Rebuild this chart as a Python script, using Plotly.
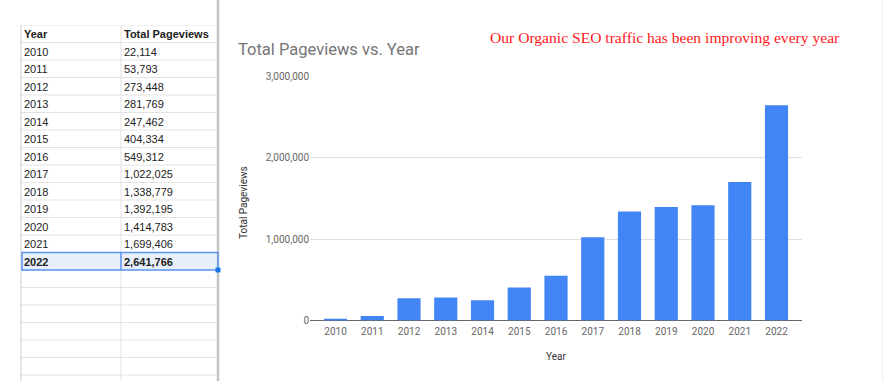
import plotly.graph_objects as go

# ---------------- data ----------------
years = ["2010", "2011", "2012", "2013", "2014", "2015", "2016",
         "2017", "2018", "2019", "2020", "2021", "2022"]
pageviews = [22114, 53793, 273448, 281769, 247462, 404334, 549312,
             1022025, 1338779, 1392195, 1414783, 1699406, 2641766]
table_headers = ["Year", "Total Pageviews"]
y_tick_values = [0, 1000000, 2000000, 3000000]
chart_title = "Total Pageviews vs. Year"
note_text = "Our Organic SEO traffic has been improving every year"
x_title = "Year"
y_title = "Total Pageviews"
selected_year = "2022"

# ---------------- geometry helpers (pixels -> paper) ----------------
W, H = 884, 381
def px(x):
    return x / W
def py(y):
    return 1 - y / H

ROW_H = 17.5
TABLE_TOP = 25
COL_W = 100
TEXT_PAD = 3 / COL_W        # left padding inside a cell, in column units
TEXT_DROP = 1.5 / ROW_H     # small downward nudge of text inside a row
col_x = [21, 121, 218]
n_visible_rows = (H - TABLE_TOP) / ROW_H

fig = go.Figure()

# ---------------- spreadsheet table (text scatter on its own axes) ----------------
header_cells = [f"<b>{h}</b>" for h in table_headers]
year_cells = [f"<b>{y}</b>" if y == selected_year else y for y in years]
pv_cells = [f"<b>{v:,}</b>" if y == selected_year else f"{v:,}" for y, v in zip(years, pageviews)]

cell_text = header_cells + year_cells + pv_cells
cell_col = [0, 1] + [0] * len(years) + [1] * len(years)
cell_row = [0, 0] + list(range(1, len(years) + 1)) + list(range(1, len(years) + 1))

fig.add_trace(go.Scatter(
    x=[c + TEXT_PAD for c in cell_col], y=[r + 0.5 + TEXT_DROP for r in cell_row], text=cell_text,
    mode="text", textposition="middle right",
    textfont=dict(family="Liberation Sans, Arial", size=11, color="#222222"),
    xaxis="x2", yaxis="y2", showlegend=False, hoverinfo="skip", cliponaxis=False,
))

n_lines = int(n_visible_rows) + 1
shapes = []
# selected row highlight
sel_idx = years.index(selected_year) + 1
shapes.append(dict(type="rect", xref="paper", yref="y2", layer="below",
                   x0=px(col_x[0] + 1), x1=px(col_x[2]), y0=sel_idx, y1=sel_idx + 1,
                   fillcolor="#e8f0fe", line=dict(width=0)))
# horizontal grid lines
for i in range(n_lines):
    shapes.append(dict(type="line", xref="paper", yref="y2", layer="below",
                       x0=px(col_x[0]), x1=px(col_x[2]), y0=i, y1=i,
                       line=dict(color="#e2e2e2", width=1)))
# vertical lines
shapes.append(dict(type="line", xref="paper", yref="paper", layer="below",
                   x0=px(col_x[0]), x1=px(col_x[0]), y0=0, y1=py(TABLE_TOP),
                   line=dict(color="#cccccc", width=1)))
shapes.append(dict(type="line", xref="paper", yref="paper", layer="below",
                   x0=px(col_x[1]), x1=px(col_x[1]), y0=0, y1=py(TABLE_TOP),
                   line=dict(color="#e2e2e2", width=1)))
shapes.append(dict(type="line", xref="paper", yref="paper", layer="below",
                   x0=px(col_x[2]), x1=px(col_x[2]), y0=0, y1=1,
                   line=dict(color="#c4c4c4", width=2.5)))
# selection border
shapes.append(dict(type="rect", xref="paper", yref="y2", layer="below",
                   x0=px(col_x[0] + 1), x1=px(col_x[2]), y0=sel_idx, y1=sel_idx + 1,
                   fillcolor="rgba(0,0,0,0)", line=dict(color="#5b95f0", width=1.5)))
shapes.append(dict(type="line", xref="paper", yref="y2", layer="below",
                   x0=px(col_x[1]), x1=px(col_x[1]), y0=sel_idx, y1=sel_idx + 1,
                   line=dict(color="#5b95f0", width=1.5)))
# selection handle
shapes.append(dict(type="rect", xref="paper", yref="y2", layer="above",
                   x0=px(col_x[2] - 2.5), x1=px(col_x[2] + 2.5),
                   y0=sel_idx + 1 - 0.14, y1=sel_idx + 1 + 0.14,
                   fillcolor="#1a73e8", line=dict(width=0)))
# faint right edge
shapes.append(dict(type="line", xref="paper", yref="paper", layer="below",
                   x0=px(882.5), x1=px(882.5), y0=0, y1=1,
                   line=dict(color="#eeeeee", width=1)))

# ---------------- bar chart ----------------
fig.add_trace(go.Bar(x=years, y=pageviews, marker=dict(color="#4285f4", line=dict(width=0)),
                     xaxis="x", yaxis="y", showlegend=False))

annotations = [
    dict(text=chart_title, xref="paper", yref="paper", x=px(236), y=py(49.5),
         xanchor="left", yanchor="middle", showarrow=False,
         font=dict(family="Roboto", size=16.5, color="#757575")),
    dict(text=note_text, xref="paper", yref="paper", x=px(488), y=py(37.5),
         xanchor="left", yanchor="middle", showarrow=False,
         font=dict(family="Liberation Serif, Times New Roman", size=15.6, color="#ff1a1a")),
    dict(text=y_title, xref="paper", yref="paper", x=px(243), y=py(203),
         xanchor="center", yanchor="middle", textangle=-90, showarrow=False,
         font=dict(family="Roboto", size=10, color="#333333")),
    dict(text=x_title, xref="paper", yref="paper", x=px(556), y=py(356),
         xanchor="center", yanchor="middle", showarrow=False,
         font=dict(family="Roboto", size=10, color="#333333")),
]

fig.update_layout(
    width=W, height=H,
    margin=dict(l=0, r=0, t=0, b=0, autoexpand=False),
    paper_bgcolor="white", plot_bgcolor="white",
    bargap=0.37,
    xaxis=dict(domain=[px(310), px(802)], type="category", range=[-0.694, 12.694],
               showgrid=False, showline=False, zeroline=False, ticks="",
               automargin=False, ticklabelstandoff=3,
               tickfont=dict(family="Roboto", size=10, color="#666666"),
               anchor="y"),
    yaxis=dict(domain=[py(320.5), py(76)], range=[0, 3000000],
               tickvals=y_tick_values, tickformat=",",
               showgrid=True, gridcolor="#e0e0e0", gridwidth=1,
               zeroline=True, zerolinecolor="#666666", zerolinewidth=1,
               showline=False, ticks="", automargin=False,
               tickfont=dict(family="Roboto", size=10, color="#666666"),
               anchor="x"),
    xaxis2=dict(domain=[px(col_x[0]), px(col_x[0] + 2 * COL_W)], range=[0, 2],
                visible=False, fixedrange=True, automargin=False, anchor="y2"),
    yaxis2=dict(domain=[0, py(TABLE_TOP)], range=[n_visible_rows, 0],
                visible=False, fixedrange=True, automargin=False, anchor="x2"),
    shapes=shapes,
    annotations=annotations,
    font=dict(family="Roboto"),
)

fig.write_html("out.html", config={"displayModeBar": False},
               post_script="document.body.style.margin='0';document.body.style.padding='0';document.body.style.overflow='hidden';")
